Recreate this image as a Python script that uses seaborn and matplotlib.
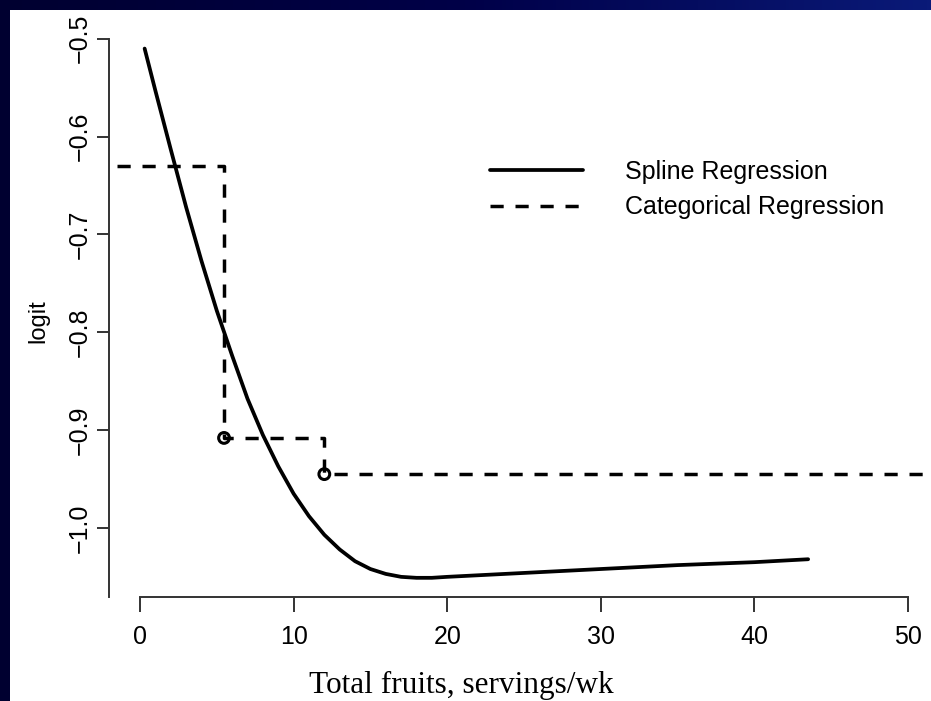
"""
Spline vs categorical regression of logit on total fruit servings/wk.
"""
import numpy as np
import matplotlib
matplotlib.use("Agg")
import matplotlib.pyplot as plt
import seaborn as sns
from matplotlib.colors import LinearSegmentedColormap
from matplotlib.patches import Rectangle

# Spline regression curve
spline_x = [0.3, 1, 2, 3, 4, 5, 6, 7, 8, 9, 10, 11, 12, 13, 14, 15, 16, 17, 18,
            19, 20, 25, 30, 35, 40, 43.5]
spline_y = [-0.510, -0.553, -0.613, -0.672, -0.727, -0.778, -0.824, -0.868,
            -0.905, -0.937, -0.965, -0.988, -1.007, -1.022, -1.034, -1.042,
            -1.047, -1.050, -1.051, -1.051, -1.050, -1.046, -1.042, -1.038,
            -1.035, -1.032]

# Categorical regression: category start points and level in each category
cat_x = [-1.5, 5.47, 12.0, 51.5]
cat_y = [-0.630, -0.908, -0.945, -0.945]

# cut points marked with open circles
knot_x = [5.47, 12.0]
knot_y = [-0.908, -0.945]

xticks = [0, 10, 20, 30, 40, 50]
yticks = [-1.0, -0.9, -0.8, -0.7, -0.6, -0.5]
ytick_labels = ["\u22121.0", "\u22120.9", "\u22120.8", "\u22120.7", "\u22120.6", "\u22120.5"]

W, H = 931, 701

sns.set_theme(style="ticks")
plt.rcParams["font.family"] = ["Liberation Sans", "DejaVu Sans"]
plt.rcParams.update({"text.color": "black", "axes.labelcolor": "black",
                     "xtick.color": "#333333", "ytick.color": "#333333",
                     "xtick.labelcolor": "black", "ytick.labelcolor": "black"})

fig = plt.figure(figsize=(W / 100, H / 100), dpi=100)

# slide background: navy gradient with white panel
bg = fig.add_axes([0, 0, 1, 1], zorder=-2)
cmap = LinearSegmentedColormap.from_list("slide", ["#000030", "#000048", "#0a1a78"])
grad = np.linspace(0, 1, 256)[None, :]
bg.imshow(grad, aspect="auto", cmap=cmap, extent=[0, 1, 0, 1])
bg.set_axis_off()
bg.add_patch(Rectangle((10 / W, 0), 1, 1 - 10 / H, facecolor="white",
                       edgecolor="none", transform=bg.transAxes))

ax = fig.add_axes([109.3 / W, (H - 597) / H, (W - 109.3) / W, (597 - 29) / H])
ax.set_facecolor("none")

sns.lineplot(x=spline_x, y=spline_y, ax=ax, color="black", lw=2.7,
             estimator=None, sort=False, label="Spline Regression")
sns.lineplot(x=cat_x, y=cat_y, ax=ax, color="black", lw=2.5,
             estimator=None, sort=False, drawstyle="steps-post",
             linestyle=(0, (3.8, 3.4)), label="Categorical Regression")
sns.scatterplot(x=knot_x, y=knot_y, ax=ax, marker="o", s=60,
                facecolors="none", edgecolors="black", linewidth=2.2,
                zorder=5, legend=False)

ax.set_xlim(-2.0, 51.5)
ax.set_ylim(-1.0706, -0.49)

for side in ["top", "right"]:
    ax.spines[side].set_visible(False)
ax.spines["left"].set_bounds(-1.0706, -0.5)
ax.spines["bottom"].set_bounds(0, 50)
for side in ["left", "bottom"]:
    ax.spines[side].set_color("#333333")
    ax.spines[side].set_linewidth(1.4)

ax.set_xticks(xticks)
ax.set_xticklabels([str(t) for t in xticks], fontsize=18)
ax.set_yticks(yticks)
ax.set_yticklabels(ytick_labels, fontsize=18, rotation=90, va="center")
ax.tick_params(axis="x", length=10.8, width=1.4, pad=9)
ax.tick_params(axis="y", length=8.6, width=1.4, pad=4)

ax.set_xlabel("Total fruits, servings/wk", family=["Liberation Serif", "DejaVu Serif"],
              fontsize=22.5, va="center")
ax.xaxis.set_label_coords(461 / W, 1 - 685 / H, transform=fig.transFigure)
ax.set_ylabel("logit", fontsize=17)
ax.yaxis.set_label_coords(49 / W, 1 - 321 / H, transform=fig.transFigure)

ax.legend(loc="upper left", bbox_to_anchor=(490 / W, 1 - 160 / H),
          bbox_transform=fig.transFigure, frameon=False, fontsize=18,
          handlelength=3.7, handletextpad=1.7, labelspacing=0.45,
          borderpad=0, borderaxespad=0)

fig.savefig("out.png", dpi=100)
plt.close(fig)
